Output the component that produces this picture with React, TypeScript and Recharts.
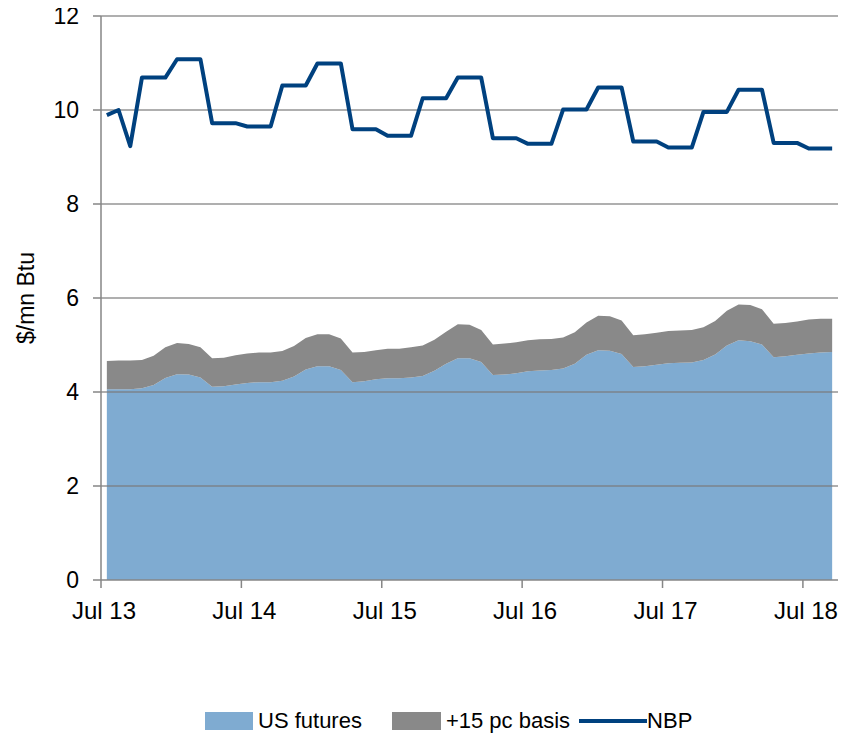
import {
  Area,
  ComposedChart,
  Line,
  ReferenceLine,
  XAxis,
  YAxis,
} from "recharts";

// monthly, Jul 13 .. Sep 18
const startYear = 2013;
const monthNames = ["Jan", "Feb", "Mar", "Apr", "May", "Jun", "Jul", "Aug", "Sep", "Oct", "Nov", "Dec"];
const months: string[] = [];
for (let i = 0; i < 63; i++) {
  const m = (6 + i) % 12;
  const y = startYear + Math.floor((6 + i) / 12);
  months.push(`${monthNames[m]} ${String(y).slice(2)}`);
}

const usFutures = [
  4.06, 4.06, 4.06, 4.08, 4.15, 4.3, 4.38, 4.37, 4.31, 4.11, 4.12, 4.16,
  4.19, 4.21, 4.21, 4.24, 4.33, 4.48, 4.55, 4.55, 4.47, 4.21, 4.23, 4.27,
  4.29, 4.29, 4.31, 4.34, 4.45, 4.6, 4.72, 4.72, 4.64, 4.36, 4.37, 4.4,
  4.44, 4.46, 4.47, 4.5, 4.6, 4.79, 4.89, 4.88, 4.81, 4.53, 4.55, 4.58,
  4.61, 4.62, 4.63, 4.68, 4.8, 4.99, 5.1, 5.08, 5.01, 4.74, 4.76, 4.79,
  4.82, 4.84, 4.85,
];

const basis = [
  0.6, 0.61, 0.61, 0.6, 0.62, 0.65, 0.66, 0.65, 0.64, 0.61, 0.61, 0.62,
  0.63, 0.63, 0.63, 0.63, 0.65, 0.67, 0.68, 0.68, 0.67, 0.63, 0.62, 0.62,
  0.63, 0.63, 0.64, 0.65, 0.66, 0.68, 0.72, 0.71, 0.68, 0.65, 0.66, 0.66,
  0.66, 0.66, 0.66, 0.66, 0.67, 0.69, 0.73, 0.73, 0.71, 0.68, 0.68, 0.68,
  0.69, 0.69, 0.69, 0.7, 0.71, 0.74, 0.76, 0.77, 0.75, 0.71, 0.71, 0.71,
  0.72, 0.72, 0.71,
];

const nbp = [
  9.89, 10.0, 9.23, 10.69, 10.69, 10.69, 11.08, 11.08, 11.08, 9.72, 9.72, 9.72,
  9.65, 9.65, 9.65, 10.52, 10.52, 10.52, 10.99, 10.99, 10.99, 9.59, 9.59, 9.59,
  9.45, 9.45, 9.45, 10.25, 10.25, 10.25, 10.69, 10.69, 10.69, 9.4, 9.4, 9.4,
  9.28, 9.28, 9.28, 10.01, 10.01, 10.01, 10.48, 10.48, 10.48, 9.33, 9.33, 9.33,
  9.2, 9.2, 9.2, 9.96, 9.96, 9.96, 10.43, 10.43, 10.43, 9.3, 9.3, 9.3,
  9.18, 9.18, 9.18,
];

const xTickLabels = ["Jul 13", "Jul 14", "Jul 15", "Jul 16", "Jul 17", "Jul 18"];
const xTicks = [0, 12, 24, 36, 48, 60];
const yTicks = [0, 2, 4, 6, 8, 10, 12];

const data = months.map((month, i) => ({
  x: i + 0.5,
  month,
  us: usFutures[i],
  basis: basis[i],
  nbp: nbp[i],
}));

const BLUE = "#7fabd1";
const GREY = "#898989";
const NAVY = "#00417f";
const AXIS = "#868686";
const FONT = "'Liberation Sans', Arial, sans-serif";

const yTickStyle = { fontSize: 23, fill: "#000", fontFamily: FONT };
const xTickStyle = { fontSize: 24, fill: "#000", fontFamily: FONT };

export default function App() {
  return (
    <div style={{ position: "relative", width: 840, height: 734, marginTop: -8, fontFamily: FONT }}>
      <ComposedChart
        width={840}
        height={734}
        data={data}
        margin={{ top: 16, right: 10, bottom: 114, left: 0 }}
      >
        <XAxis
          dataKey="x"
          type="number"
          domain={[0, 63]}
          ticks={xTicks}
          interval={0}
          tickFormatter={(v: number) => xTickLabels[Math.round(v / 12)]}
          height={40}
          tickSize={8}
          tickMargin={14}
          stroke={AXIS}
          strokeWidth={1.5}
          tick={{ ...xTickStyle, dx: 3 }}
        />
        <YAxis
          type="number"
          domain={[0, 12]}
          ticks={yTicks}
          interval={0}
          width={93}
          tickSize={8}
          tickMargin={14}
          stroke={AXIS}
          strokeWidth={1.5}
          tick={yTickStyle}
          label={{
            value: "$/mn Btu",
            angle: -90,
            position: "insideLeft",
            offset: 18,
            style: { textAnchor: "middle", fontSize: 23, fill: "#000", fontFamily: FONT },
          }}
        />
        <Area
          type="linear"
          dataKey="us"
          stackId="1"
          stroke="none"
          fill={BLUE}
          fillOpacity={1}
          isAnimationActive={false}
          name="US futures"
        />
        <Area
          type="linear"
          dataKey="basis"
          stackId="1"
          stroke="none"
          fill={GREY}
          fillOpacity={1}
          isAnimationActive={false}
          name="+15 pc basis"
        />
        {yTicks.slice(1).map((t) => (
          <ReferenceLine key={t} y={t} stroke="#7a7a7a" strokeOpacity={0.8} strokeWidth={1.5} />
        ))}
        <Line
          type="linear"
          dataKey="nbp"
          stroke={NAVY}
          strokeWidth={4}
          strokeLinejoin="round"
          dot={false}
          activeDot={false}
          isAnimationActive={false}
          name="NBP"
        />
      </ComposedChart>
      <div
        style={{
          position: "absolute",
          top: 708,
          left: 197,
          display: "flex",
          alignItems: "center",
          fontSize: 22,
          color: "#000",
          whiteSpace: "nowrap",
        }}
      >
        <span style={{ width: 48, height: 18, background: BLUE, display: "inline-block" }} />
        <span style={{ marginLeft: 5 }}>US futures</span>
        <span style={{ marginLeft: 30, width: 49, height: 18, background: GREY, display: "inline-block" }} />
        <span style={{ marginLeft: 5 }}>+15 pc basis</span>
        <span style={{ marginLeft: 9, width: 68, height: 4, background: NAVY, display: "inline-block" }} />
        <span>NBP</span>
      </div>
    </div>
  );
}
